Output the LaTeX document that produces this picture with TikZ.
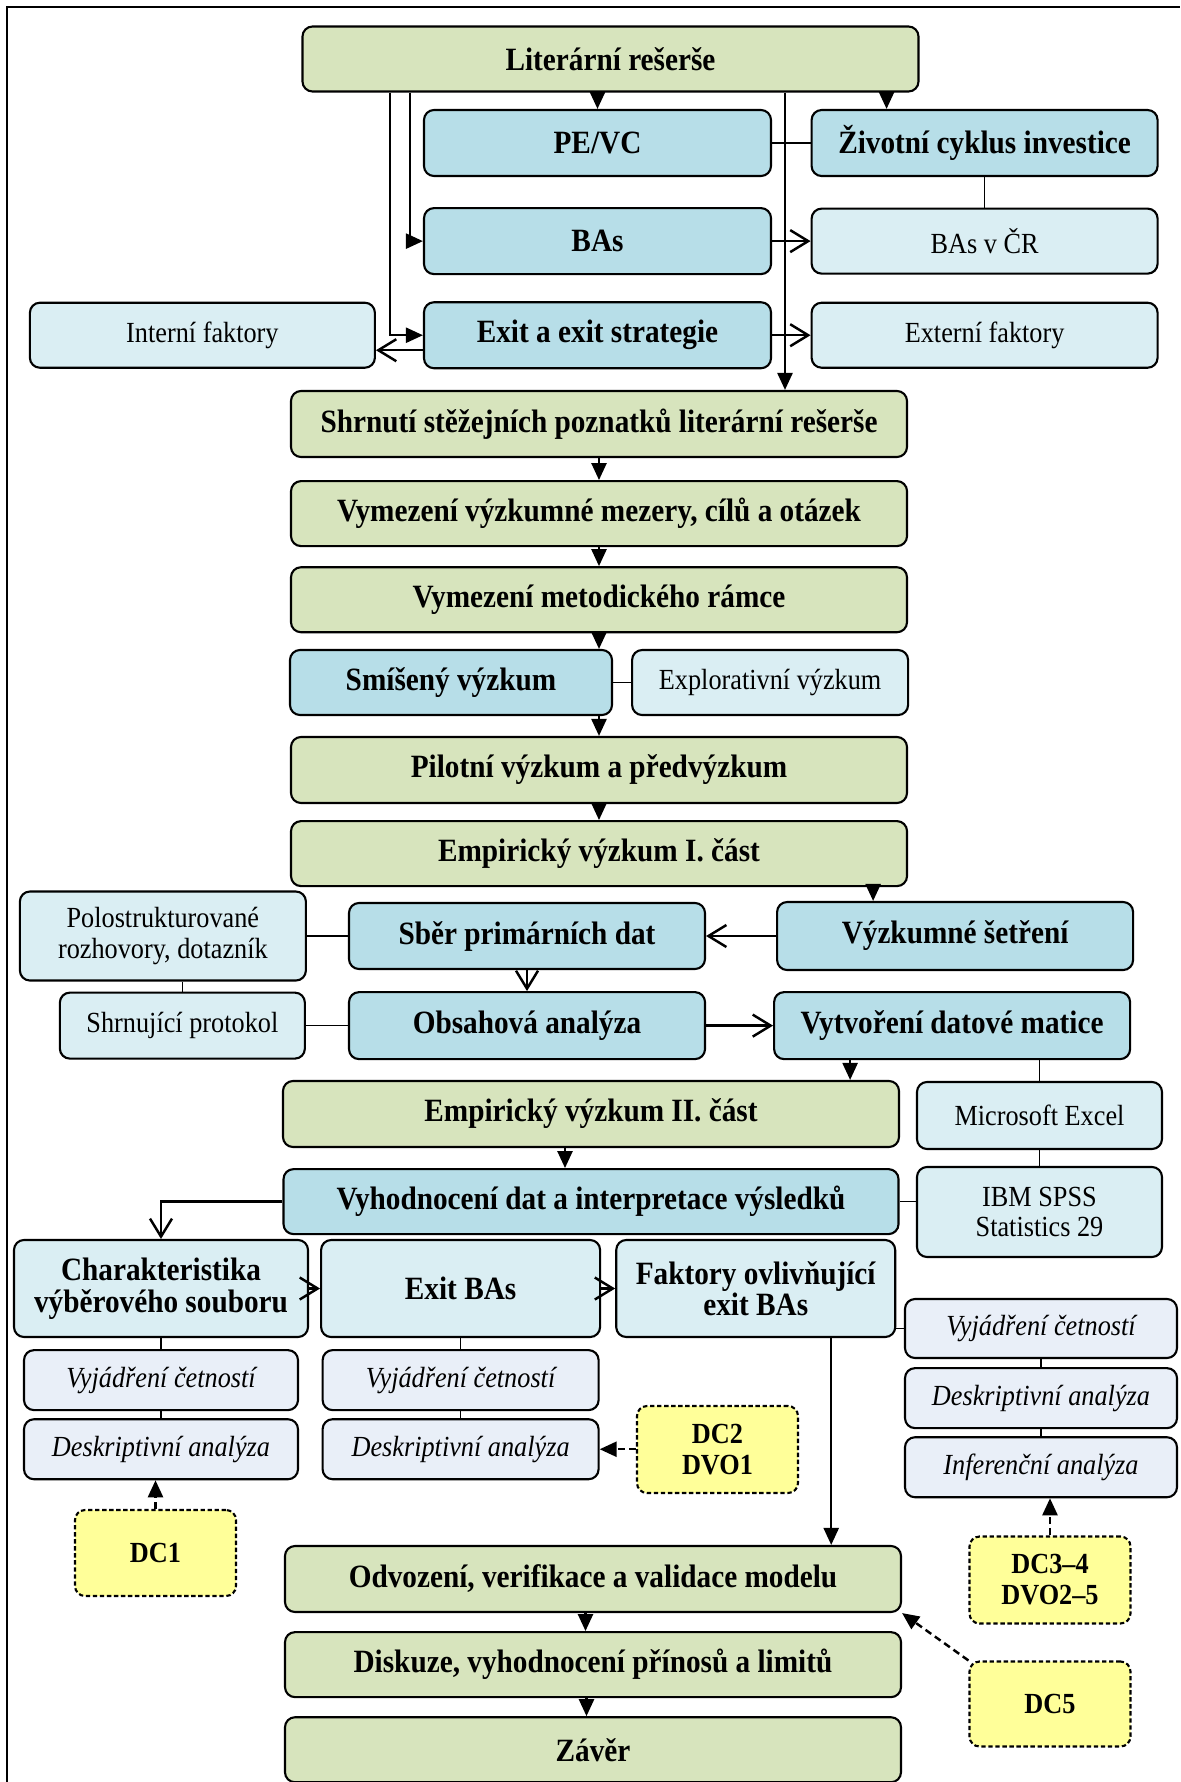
\documentclass[tikz,border=0pt]{standalone}
\usepackage{fontspec}
\setmainfont{Liberation Serif}[FakeStretch=0.9]
\usepackage{xcolor}
\usetikzlibrary{positioning, arrows.meta}

\definecolor{mainfill}{HTML}{D7E4BD}
\definecolor{bluefill}{HTML}{B7DEE8}
\definecolor{lightfill}{HTML}{DAEEF3}
\definecolor{palefill}{HTML}{E9EFF8}
\definecolor{dcfill}{HTML}{FFFF99}

\begin{document}
\begin{tikzpicture}[node distance=1.0cm,
    every node/.style={font=\fontsize{16.6}{17.6}\selectfont},
    mainbox/.style={rectangle, draw, line width=1.2pt, rounded corners=0.2cm, fill=mainfill, minimum width=12.32cm, minimum height=1.3cm, font=\fontsize{18.5}{17.6}\selectfont\bfseries},
    bluebox/.style={rectangle, draw, line width=1.2pt, rounded corners=0.2cm, fill=bluefill, minimum height=1.32cm, font=\fontsize{18.5}{17.6}\selectfont\bfseries},
    lightbox/.style={rectangle, draw, line width=1.2pt, rounded corners=0.2cm, fill=lightfill, minimum height=1.3cm, align=center},
    lightbold/.style={lightbox, font=\fontsize{18.5}{18}\selectfont\bfseries, minimum width=5.58cm, minimum height=1.94cm},
    palebox/.style={rectangle, draw, line width=1.2pt, rounded corners=0.2cm, fill=palefill, minimum height=1.2cm, font=\fontsize{16.6}{17.6}\selectfont\itshape},
    dcbox/.style={rectangle, draw, line width=1.2pt, dash pattern=on 2.5pt off 1.5pt, rounded corners=0.2cm, fill=dcfill, minimum width=3.22cm, minimum height=1.74cm, align=center, font=\fontsize{16.6}{17.6}\selectfont\bfseries},
    arr/.style={-{Triangle[length=0.34cm,width=0.3cm]}, line width=1.4pt},
    oarr/.style={-{Straight Barb[length=0.36cm,width=0.44cm]}, line width=1.4pt},
    darr/.style={arr, dash pattern=on 4pt off 2.5pt},
    link/.style={line width=0.9pt}]
        \useasboundingbox (0,0) rectangle (23.6,-35.64);
        \draw[line width=1pt] (0.14,-35.64) -- (0.14,-0.14) -- (23.6,-0.14);
        % Literature review block
        \node[mainbox] (lit) at (12.21,-1.18) {Literární rešerše};
        \node[bluebox, minimum width=6.94cm] (pevc) at (11.95,-2.86) {PE/VC};
        \node[bluebox, minimum width=6.92cm, right=0.77cm of pevc] (ziv) {Životní cyklus investice};
        \node[bluebox, minimum width=6.94cm, below=0.6cm of pevc] (bas) {BAs};
        \node[lightbox, minimum width=6.92cm, right=0.77cm of bas] (basvcr) {BAs v ČR};
        \node[bluebox, minimum width=6.94cm, below=0.52cm of bas] (exit) {Exit a exit strategie};
        \node[lightbox, minimum width=6.9cm, left=0.94cm of exit] (intf) {Interní faktory};
        \node[lightbox, minimum width=6.92cm, right=0.77cm of exit] (extf) {Externí faktory};
        \node[mainbox, minimum height=1.32cm] (shrn) at (11.98,-8.48) {Shrnutí stěžejních poznatků literární rešerše};
        \node[mainbox, below=0.44cm of shrn] (mez) {Vymezení výzkumné mezery, cílů a otázek};
        \node[mainbox, below=0.38cm of mez] (met) {Vymezení metodického rámce};
        \node[bluebox, minimum width=6.44cm, minimum height=1.3cm] (smis) at (9.02,-13.65) {Smíšený výzkum};
        \node[lightbox, minimum width=5.52cm, right=0.36cm of smis] (expl) {Explorativní výzkum};
        \node[mainbox, minimum height=1.32cm] (pil) at (11.98,-15.4) {Pilotní výzkum a předvýzkum};
        \node[mainbox, below=0.32cm of pil] (emp1) {Empirický výzkum I. část};
        % Empirical part I
        \node[bluebox, minimum width=7.12cm] (sber) at (10.54,-18.72) {Sběr primárních dat};
        \node[bluebox, minimum width=7.12cm, minimum height=1.36cm, right=1.4cm of sber] (vyzk) {Výzkumné šetření};
        \node[lightbox, minimum width=5.72cm, minimum height=1.78cm, left=0.82cm of sber] (polo) {Polostrukturované\\rozhovory, dotazník};
        \node[bluebox, minimum width=7.12cm, minimum height=1.34cm, below=0.42cm of sber] (obs) {Obsahová analýza};
        \node[lightbox, minimum width=4.9cm, minimum height=1.32cm, left=0.84cm of obs] (shrnp) {Shrnující protokol};
        \node[bluebox, minimum width=7.12cm, minimum height=1.34cm, right=1.34cm of obs] (vytv) {Vytvoření datové matice};
        % Empirical part II
        \node[mainbox, minimum height=1.32cm] (emp2) at (11.82,-22.28) {Empirický výzkum II. část};
        \node[lightbox, minimum width=4.9cm, minimum height=1.34cm] (excel) at (20.79,-22.31) {Microsoft Excel};
        \node[bluebox, minimum width=12.3cm, minimum height=1.3cm, below=0.4cm of emp2] (vyhod) {Vyhodnocení dat a interpretace výsledků};
        \node[lightbox, minimum width=4.9cm, minimum height=1.8cm] (spss) at (20.79,-24.24) {IBM SPSS\\Statistics 29};
        \node[lightbold, minimum width=5.88cm] (char) at (3.22,-25.77) {Charakteristika\\výběrového souboru};
        \node[lightbold, right=0.22cm of char] (exitbas) {Exit BAs};
        \node[lightbold, right=0.28cm of exitbas] (fakt) {Faktory ovlivňující\\exit BAs};
        \node[palebox, minimum width=5.48cm, below=0.22cm of char] (vyjL) {Vyjádření četností};
        \node[palebox, minimum width=5.48cm, below=0.14cm of vyjL] (deskL) {Deskriptivní analýza};
        \node[palebox, minimum width=5.52cm, below=0.22cm of exitbas] (vyjM) {Vyjádření četností};
        \node[palebox, minimum width=5.52cm, below=0.14cm of vyjM] (deskM) {Deskriptivní analýza};
        \node[palebox, minimum width=5.44cm, minimum height=1.18cm] (vyjR) at (20.82,-26.57) {Vyjádření četností};
        \node[palebox, minimum width=5.44cm, below=0.16cm of vyjR] (deskR) {Deskriptivní analýza};
        \node[palebox, minimum width=5.44cm, below=0.14cm of deskR] (infR) {Inferenční analýza};
        \node[dcbox, minimum height=1.72cm] (dc1) at (3.11,-31.06) {DC1};
        \node[dcbox] (dc2) at (14.35,-28.99) {DC2\\DVO1};
        \node[dcbox] (dc34) at (21.0,-31.6) {DC3–4\\DVO2–5};
        \node[dcbox, minimum height=1.7cm] (dc5) at (21.0,-34.08) {DC5};
        \node[mainbox, minimum height=1.32cm] (odv) at (11.86,-31.58) {Odvození, verifikace a validace modelu};
        \node[mainbox, below=0.36cm of odv] (disk) {Diskuze, vyhodnocení přínosů a limitů};
        \node[mainbox, below=0.36cm of disk] (zav) {Závěr};
        % Arrows from the literature review
        \coordinate (zivin) at ([xshift=1.52cm]ziv.north west);
        \coordinate (shrnin) at ([xshift=3.72cm]shrn.north);
        \draw[arr] (lit.south -| pevc.north) -- (pevc.north);
        \draw[arr] (lit.south -| zivin) -- (zivin);
        \draw[arr] ([xshift=-4.01cm]lit.south) |- (bas.west);
        \draw[arr] ([xshift=-4.41cm]lit.south) |- (exit.west);
        \draw[arr] (lit.south -| shrnin) -- (shrnin);
        \coordinate (intfout) at ([yshift=-0.3cm]exit.west);
        \draw[oarr] (intfout) -- (intfout -| intf.east);
        \draw[link] (pevc) -- (ziv);
        \draw[link] (ziv) -- (basvcr);
        \draw[oarr] (bas) -- (basvcr);
        \draw[oarr] (exit) -- (extf);
        % Main column
        \draw[arr] (shrn.south) -- (shrn.south |- mez.north);
        \draw[arr] (mez.south) -- (mez.south |- met.north);
        \draw[arr] (met.south) -- (met.south |- smis.north);
        \draw[link] (smis) -- (expl);
        \draw[arr] (pil.north |- smis.south) -- (pil.north);
        \draw[arr] (pil.south) -- (pil.south |- emp1.north);
        % Empirical part I
        \coordinate (vyzkin) at ([xshift=-1.64cm]vyzk.north);
        \draw[arr] (emp1.south -| vyzkin) -- (vyzkin);
        \draw[oarr] (vyzk) -- (sber);
        \draw[link] (polo) -- (sber);
        \draw[link] (shrnp.north |- polo.south) -- (shrnp.north);
        \draw[oarr] (sber) -- (obs);
        \draw[link] (shrnp) -- (obs);
        \draw[oarr] (obs) -- (vytv);
        \coordinate (emp2in) at ([xshift=-2.04cm]vytv.south);
        \draw[arr] (emp2in) -- (emp2in |- emp2.north);
        \draw[link] (excel.north |- vytv.south) -- (excel.north);
        \draw[link] (excel) -- (spss);
        % Empirical part II
        \coordinate (vyhodin) at ([xshift=-0.52cm]emp2.south);
        \draw[arr] (vyhodin) -- (vyhodin |- vyhod.north);
        \draw[link] (vyhod.east) -- (vyhod.east -| spss.west);
        \draw[oarr] (vyhod.west) -| (char.north);
        \draw[oarr] (char) -- (exitbas);
        \draw[oarr] (exitbas) -- (fakt);
        \draw[link] (char) -- (vyjL);
        \draw[link] (vyjL) -- (deskL);
        \draw[link] (exitbas) -- (vyjM);
        \draw[link] (vyjM) -- (deskM);
        \draw[link] (vyjR.west -| fakt.east) -- (vyjR.west);
        \draw[link] (vyjR) -- (deskR);
        \draw[link] (deskR) -- (infR);
        \coordinate (odvin) at ([xshift=1.51cm]fakt.south);
        \draw[arr] (odvin) -- (odvin |- odv.north);
        % Data sources
        \draw[darr] (dc1.north) -- (dc1.north |- deskL.south);
        \draw[darr] (dc2.west |- deskM.east) -- (deskM.east);
        \draw[darr] (dc34.north) -- (dc34.north |- infR.south);
        \draw[darr] (dc5.north west) -- (odv.south east);
        % Conclusion
        \coordinate (diskin) at ([xshift=-0.15cm]odv.south);
        \draw[arr] (diskin) -- (diskin |- disk.north);
        \coordinate (zavin) at ([xshift=-0.13cm]disk.south);
        \draw[arr] (zavin) -- (zavin |- zav.north);
    \end{tikzpicture}
\end{document}
